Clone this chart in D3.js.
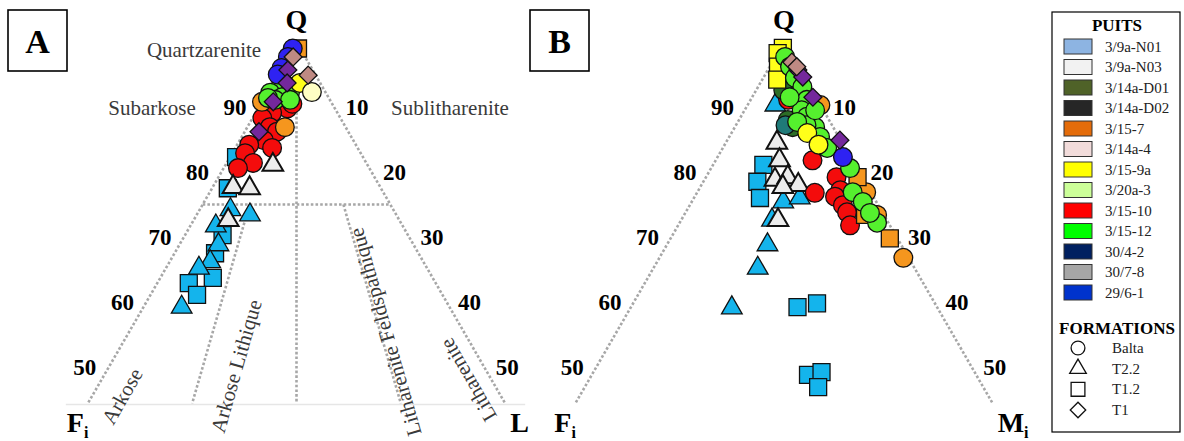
<!DOCTYPE html>
<html>
<head>
<meta charset="utf-8">
<script src="https://cdn.jsdelivr.net/npm/d3@7"></script>
<style>
  body { margin: 0; background: #fff; }
  text { font-family: "Liberation Serif", "Times New Roman", serif; }
</style>
</head>
<body>
<div id="chart"></div>
<script>
// wells / formations (legend)
var wells = ["3/9a-N01", "3/9a-N03", "3/14a-D01", "3/14a-D02", "3/15-7", "3/14a-4", "3/15-9a",
             "3/20a-3", "3/15-10", "3/15-12", "30/4-2", "30/7-8", "29/6-1"];
var wellColors = ["#8db4e2", "#f2f2f2", "#4f6228", "#262626", "#e46c0a", "#f2dcdb", "#ffff00",
                  "#ccff99", "#ff0000", "#00ff00", "#002060", "#a6a6a6", "#0033cc"];
var formations = ["Balta", "T2.2", "T1.2", "T1"];

var leftTicks = [90, 80, 70, 60, 50];
var rightTicks = [10, 20, 30, 40, 50];

// points as [Q, F, L] in percent
// panel A (Q-F-L)
var aCyanSquares = [[82.3,16.9,0.8],[77.5,20.4,2.1],[70.3,24.7,5.0],[67.5,27.1,5.4],[63.7,29.3,7.0],[62.9,32.9,4.2],[61.1,32.7,6.2]];
var aCyanTriangles = [[74.2,21.7,4.1],[73.4,19.5,7.1],[71.7,24.9,3.4],[68.8,26.0,5.2],[66.2,28.4,5.4],[65.2,30.4,4.4],[59.2,35.7,5.1]];
var aWhiteTriangles = [[81.1,12.6,6.3],[77.7,19.6,2.7],[77.5,17.5,5.0],[72.6,22.8,4.6]];
var aRed = [[89.8,6.3,3.9],[90.5,5.3,4.2],[89.1,8.7,2.2],[88.3,10.4,1.3],[86.9,10.1,3.0],[86.2,9.5,4.3],
            [84.9,11.9,3.2],[84.2,14.2,1.6],[83.7,11.4,4.9],[82.9,15.4,1.7],[81.4,15.1,3.5],[80.6,17.5,1.9]];
var aOrangeCircles = [[90.8,9.2,0],[86.9,8.1,5.0]];
var aOrangeSquares = [[99.0,0.3,0.7]];
var aGreen = [[93.4,4.8,1.8],[92.6,6.2,1.2],[92.3,4.7,3.0],[92.2,7.4,0.4],[91.5,6.2,2.3],[91.1,7.3,1.6],[91.1,5.3,3.6],[91.4,8.1,0.5]];
var aYellow = [[93.7,2.7,3.6]];
var aPaleYellow = [[92.3,1.8,5.9]];
var aBlue = [[99.0,1.0,0],[97.7,2.3,0],[96.0,4.0,0],[95.0,5.0,0]];
var aPurple = [[95.7,3.3,1.0],[93.7,4.4,1.9],[90.8,7.7,1.5],[86.2,11.9,1.9]];
var aMauve = [[97.7,1.6,0.7],[94.9,1.0,4.1]];

// panel B (Q-Fi-Mi)
var bCyanSquares = [[81.1,12.2,6.7],[78.5,14.3,7.2],[76.0,15.2,8.8],[59.2,18.6,22.2],[59.8,15.7,24.5],[48.8,22.4,28.8],[49.2,20.4,30.4],[46.9,22.0,31.1]];
var bCyanTriangles = [[90.3,6.0,3.7],[75.4,12.4,12.2],[76.0,9.9,14.1],[72.6,15.3,12.1],[68.8,17.8,13.4],[65.2,20.9,13.9],[59.1,27.4,13.5]];
var bWhiteTriangles = [[84.5,8.7,6.8],[81.8,9.7,8.5],[78.8,11.8,9.4],[79.2,9.9,10.9],[78.0,9.1,12.9],[72.6,14.5,12.9],[77.7,11.3,11.0]];
var bRed = [[91.1,3.9,5.0],[81.8,5.3,12.9],[76.8,7.5,15.7],[79.2,3.4,17.4],[77.2,3.9,18.9],[76.2,5.1,18.7],[74.9,4.7,20.4],[73.8,4.7,21.5],[71.8,5.3,22.9]];
var bOrangeCircles = [[90.3,0,9.7],[76.9,0.6,22.5],[73.4,0.9,25.7],[66.8,0.7,32.5]];
var bOrangeSquares = [[79.2,0.6,20.2],[73.4,2.5,24.1],[69.8,1.0,29.2]];
var bDarkGreen = [[92.6,3.8,3.6],[91.5,3.2,5.3],[88.0,5.5,6.5],[86.9,5.4,7.7]];
var bTeal = [[87.2,6.2,6.6]];
var bGreen = [[97.7,1.0,1.3],[96.2,1.1,2.7],[94.5,1.3,4.2],[93.1,1.0,5.9],[91.1,1.4,7.5],[89.5,2.9,7.6],[88.5,2.7,8.8],
              [86.9,2.4,10.7],[85.4,2.5,12.1],[83.7,2.4,13.9],[87.2,3.4,9.4],[87.7,4.4,7.9],[91.5,3.5,5.0],[80.6,0.9,18.5],
              [76.9,2.4,20.7],[75.4,1.8,22.8],[72.2,1.5,26.3],[73.7,1.7,24.6],[89.5,1.1,9.4]];
var bYellowCircles = [[86.0,3.9,10.1],[84.2,3.3,12.5]];
var bYellowSquares = [[99.1,0.6,0.3],[98.3,1.7,0],[96.2,2.7,1.1],[94.2,3.8,2.0]];
var bBlue = [[82.3,1.0,16.7]];
var bPurple = [[95.7,0.3,4.0],[94.6,0.2,5.2],[91.5,0.4,8.1],[84.9,0.1,15.0]];
var bMauve = [[96.9,0.5,2.6],[96.2,0.2,3.6]];

var col = {cyan: "#14b4ec", white: "#ececec", red: "#f40c0c", orange: "#f5961e", green: "#55f02e",
           yellow: "#ffff1a", pale: "#ffffc4", blue: "#2e22f2", purple: "#74289c", mauve: "#bf8a83",
           dgreen: "#2c6e26", teal: "#1f7a78"};

var seriesA = [
  [aOrangeSquares, col.orange, "square"],
  [aCyanSquares, col.cyan, "square"], [aCyanTriangles, col.cyan, "triangle"],
  [aRed, col.red, "circle"], [aWhiteTriangles, col.white, "triangle"],
  [aOrangeCircles, col.orange, "circle"],
  [aGreen, col.green, "circle"], [aYellow, col.yellow, "circle"], [aPaleYellow, col.pale, "circle"],
  [aBlue, col.blue, "circle"], [aPurple, col.purple, "diamond"], [aMauve, col.mauve, "diamond"]
];
var seriesB = [
  [bCyanSquares, col.cyan, "square"], [bCyanTriangles, col.cyan, "triangle"],
  [bWhiteTriangles, col.white, "triangle"], [bRed, col.red, "circle"],
  [bOrangeCircles, col.orange, "circle"], [bOrangeSquares, col.orange, "square"],
  [bDarkGreen, col.dgreen, "circle"], [bTeal, col.teal, "circle"], [bYellowSquares, col.yellow, "square"],
  [bGreen, col.green, "circle"], [bYellowCircles, col.yellow, "circle"],
  [bBlue, col.blue, "circle"], [bPurple, col.purple, "diamond"], [bMauve, col.mauve, "diamond"]
];

var svgWidth = 1184, svgHeight = 441;
var svg = d3.select("#chart").append("svg")
  .attr("width", svgWidth).attr("height", svgHeight);
svg.append("rect").attr("width", svgWidth).attr("height", svgHeight).attr("fill", "#fff");

var triH = 650;              // full triangle height in px
var halfBase = triH / Math.sqrt(3);
var qMin = 44.4;             // truncation of the diagram
var dotted = {stroke: "#a7a7a7", width: 2.6, dash: "2.6,2.1"};

var symbols = {
  circle: d3.symbol(d3.symbolCircle, 275),
  square: d3.symbol(d3.symbolSquare, 289),
  triangle: d3.symbol(d3.symbolTriangle, 185),
  diamond: d3.symbol(d3.symbolSquare, 160)
};

function makePanel(apexX, apexY) {
  var x = d3.scaleLinear().domain([-100, 100]).range([apexX - halfBase, apexX + halfBase]);
  var y = d3.scaleLinear().domain([100, 0]).range([apexY, apexY + triH]);
  return {x: x, y: y, proj: function(p) { return [x(p[2] - p[1]), y(p[0])]; }};
}

function dotLine(g, panel, p1, p2) {
  var a = panel.proj(p1), b = panel.proj(p2);
  g.append("line").attr("x1", a[0]).attr("y1", a[1]).attr("x2", b[0]).attr("y2", b[1])
    .attr("stroke", dotted.stroke).attr("stroke-width", dotted.width)
    .attr("stroke-dasharray", dotted.dash);
}

function drawPanel(panel, series, letter, rightName, boxX, folk) {
  var g = svg.append("g");
  var q0 = 100 - qMin;
  if (folk) {
    var lb = panel.proj([qMin, q0, 0]), rb = panel.proj([qMin, 0, q0]);
    g.append("line").attr("x1", lb[0] - 22).attr("x2", rb[0] + 20).attr("y1", lb[1] + 1).attr("y2", lb[1] + 1)
      .attr("stroke", "#e6e6e6").attr("stroke-width", 1.5);
  }
  dotLine(g, panel, [100, 0, 0], [qMin, q0, 0]);
  dotLine(g, panel, [100, 0, 0], [qMin, 0, q0]);
  if (folk) {
    dotLine(g, panel, [75, 25, 0], [75, 0, 25]);
    dotLine(g, panel, [95, 2.5, 2.5], [qMin, q0 / 2, q0 / 2]);
    dotLine(g, panel, [75, 18.75, 6.25], [qMin, q0 * 0.75, q0 * 0.25]);
    dotLine(g, panel, [75, 6.25, 18.75], [qMin, q0 * 0.25, q0 * 0.75]);
  }

  // tick labels
  g.selectAll(".lt").data(leftTicks).enter().append("text")
    .attr("x", function(d) { return panel.proj([d, 100 - d, 0])[0] - 24; })
    .attr("y", function(d) { return panel.y(d) + 8; })
    .attr("text-anchor", "middle").attr("font-size", 23).attr("font-weight", "bold")
    .text(function(d) { return d; });
  g.selectAll(".rt").data(rightTicks).enter().append("text")
    .attr("x", function(d) { return panel.proj([100 - d, 0, d])[0] + 23; })
    .attr("y", function(d) { return panel.y(100 - d) + 8; })
    .attr("text-anchor", "middle").attr("font-size", 23).attr("font-weight", "bold")
    .text(function(d) { return d; });

  // vertex labels
  var apex = panel.proj([100, 0, 0]);
  g.append("text").attr("x", apex[0]).attr("y", 29).attr("text-anchor", "middle")
    .attr("font-size", 28).attr("font-weight", "bold").text("Q");
  var fl = panel.proj([qMin, q0, 0]);
  var fi = g.append("text").attr("x", fl[0] - 21).attr("y", 432).attr("font-weight", "bold");
  fi.append("tspan").attr("font-size", 28).text("F");
  fi.append("tspan").attr("font-size", 16).attr("dy", 6).text("i");
  var rl = panel.proj([qMin, 0, q0]);
  var rt = g.append("text").attr("x", rl[0] + 5).attr("y", 432).attr("font-weight", "bold");
  rt.append("tspan").attr("font-size", 28).text(rightName);
  if (rightName === "M") rt.append("tspan").attr("font-size", 16).attr("dy", 6).text("i");

  // panel letter box
  g.append("rect").attr("x", boxX).attr("y", 10).attr("width", 59).attr("height", 61)
    .attr("fill", "#fff").attr("stroke", "#000").attr("stroke-width", 1.6);
  g.append("text").attr("x", boxX + 29.5).attr("y", 53).attr("text-anchor", "middle")
    .attr("font-size", 34).attr("font-weight", "bold").text(letter);

  // points
  series.forEach(function(s) {
    g.selectAll(null).data(s[0]).enter().append("path")
      .attr("d", symbols[s[2]]())
      .attr("transform", function(d) {
        var p = panel.proj(d);
        return "translate(" + p[0] + "," + p[1] + ")" + (s[2] === "diamond" ? " rotate(45)" : "");
      })
      .attr("fill", s[1]).attr("stroke", "#111")
      .attr("stroke-width", s[1] === col.white ? 2 : 1.3);
  });
  return g;
}

var panelA = makePanel(296.5, 42);
var panelB = makePanel(784, 42);
var gA = drawPanel(panelA, seriesA, "A", "L", 8, true);
drawPanel(panelB, seriesB, "B", "M", 530, false);

// Folk field names
var fieldNames = [
  ["Quartzarenite", 204, 50, 0], ["Subarkose", 152, 108, 0], ["Sublitharenite", 450, 108, 0],
  ["Arkose", 122, 396, -60], ["Arkose Lithique", 236, 366, -74],
  ["Litharenite Feldspathique", 385, 332, -106], ["Litharenite", 468, 380, -120]
];
gA.selectAll(".field").data(fieldNames).enter().append("text")
  .attr("transform", function(d) { return "translate(" + d[1] + "," + d[2] + ") rotate(" + d[3] + ")"; })
  .attr("dy", "0.35em").attr("text-anchor", "middle").attr("font-size", 21).attr("fill", "#3a3a3a")
  .text(function(d) { return d[0]; });

// legend
var lg = svg.append("g");
lg.append("rect").attr("x", 1052).attr("y", 12).attr("width", 128).attr("height", 420)
  .attr("fill", "#fff").attr("stroke", "#000").attr("stroke-width", 1.2);
lg.append("text").attr("x", 1117).attr("y", 31).attr("text-anchor", "middle")
  .attr("font-size", 17).attr("font-weight", "bold").text("PUITS");
var wy = d3.scaleLinear().domain([0, wells.length - 1]).range([46.5, 292.5]);
lg.selectAll(".sw").data(wells).enter().append("rect")
  .attr("x", 1064).attr("y", function(d, i) { return wy(i) - 7.5; })
  .attr("width", 28).attr("height", 15)
  .attr("fill", function(d, i) { return wellColors[i]; })
  .attr("stroke", "#333").attr("stroke-width", 1);
lg.selectAll(".wl").data(wells).enter().append("text")
  .attr("x", 1105).attr("y", function(d, i) { return wy(i) + 5; })
  .attr("font-size", 15).attr("fill", "#222").text(function(d) { return d; });

lg.append("text").attr("x", 1117).attr("y", 334).attr("text-anchor", "middle")
  .attr("font-size", 17).attr("font-weight", "bold").text("FORMATIONS");
var fShapes = ["circle", "triangle", "square", "diamond"];
var fy = d3.scaleLinear().domain([0, 3]).range([348, 410]);
var legSym = {circle: d3.symbol(d3.symbolCircle, 150), triangle: d3.symbol(d3.symbolTriangle, 120),
              square: d3.symbol(d3.symbolSquare, 190), diamond: d3.symbol(d3.symbolSquare, 120)};
lg.selectAll(".fs").data(formations).enter().append("path")
  .attr("d", function(d, i) { return legSym[fShapes[i]](); })
  .attr("transform", function(d, i) { return "translate(1078," + fy(i) + ")" + (i === 3 ? " rotate(45)" : ""); })
  .attr("fill", "none").attr("stroke", "#111").attr("stroke-width", 1.3);
lg.selectAll(".fl").data(formations).enter().append("text")
  .attr("x", 1112).attr("y", function(d, i) { return fy(i) + 5; })
  .attr("font-size", 15).attr("fill", "#222").text(function(d) { return d; });
</script>
</body>
</html>
